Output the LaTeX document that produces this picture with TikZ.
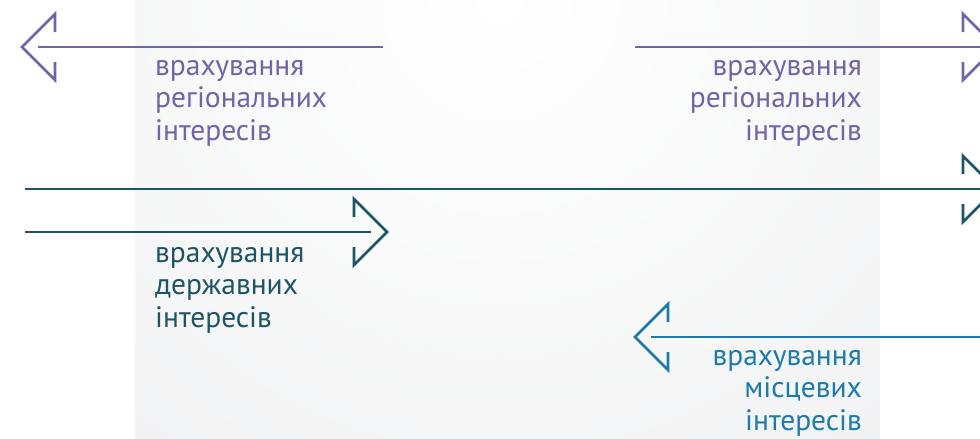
\documentclass[tikz,border=0pt]{standalone}
\usepackage{fontspec}
\setmainfont{PT Sans}
\usepackage{xcolor}
\definecolor{colorRegion}{HTML}{6F65A8}
\definecolor{colorState}{HTML}{1D5566}
\definecolor{colorLocal}{HTML}{1C7BAE}
\definecolor{colorBack}{HTML}{E9EAEC}
\usepackage{tikz}
\usetikzlibrary{arrows.meta, positioning}
% hollow head, open at the back round the shaft
\pgfdeclarearrow{
  name = OpenHead,
  setup code = {
    \pgfarrowssettipend{0pt}
    \pgfarrowssetlineend{-16pt}
    \pgfarrowssetbackend{-33pt}
    \pgfarrowsupperhullpoint{-33pt}{33pt}
    \pgfarrowsupperhullpoint{0pt}{0pt}
  },
  drawing code = {
    \pgfsetdash{}{0pt}
    \pgfsetmiterjoin
    \pgfpathmoveto{\pgfqpoint{-33pt}{15pt}}
    \pgfpathlineto{\pgfqpoint{-33pt}{33pt}}
    \pgfpathlineto{\pgfqpoint{0pt}{0pt}}
    \pgfpathlineto{\pgfqpoint{-33pt}{-33pt}}
    \pgfpathlineto{\pgfqpoint{-33pt}{-15pt}}
    \pgfusepathqstroke
  }
}
\tikzset{
  flow/.style={line width=2.8pt, -OpenHead},
  label text/.style={inner sep=0pt, font=\fontsize{29.5}{32.5}\selectfont}
}

\begin{document}
\begin{tikzpicture}[x=1pt, y=-1pt]
\useasboundingbox (0,0) rectangle (980,439);
\clip (0,0) rectangle (980,439);
\begin{scope}
\clip (135,0) rectangle (880,439);
\shade[inner color=white, outer color=colorBack] (500,0) circle (1000);
\end{scope}
% arrow ends
\coordinate (rl-start) at (383,47);
\coordinate (rl-tip) at (22,47);
\coordinate (rr-start) at (635,47);
\coordinate (rr-tip) at (996,47);
\coordinate (sl-start) at (25,189);
\coordinate (sl-tip) at (996,189);
\coordinate (ss-start) at (25,232);
\coordinate (ss-tip) at (387,232);
\coordinate (lc-start) at (990,337);
\coordinate (lc-tip) at (635,337);
\draw [flow, colorRegion] (rl-start) -- (rl-tip);
\draw [flow, colorRegion] (rr-start) -- (rr-tip);
\draw [flow, colorState] (sl-start) -- (sl-tip);
\draw [flow, colorState] (ss-start) -- (ss-tip);
\draw [flow, colorLocal] (lc-start) -- (lc-tip);
% labels (base = last line)
\node[label text, colorRegion, anchor=base west, align=left] (rl-text) at (155,140) {врахування\\регіональних\\інтересів};
\node[label text, colorRegion, anchor=base east, align=right] (rr-text) at (862,140) {врахування\\регіональних\\інтересів};
\node[label text, colorState, anchor=base west, align=left] (ss-text) at (155,327) {врахування\\державних\\інтересів};
\node[label text, colorLocal, anchor=base east, align=right] (lc-text) at (862,430) {врахування\\місцевих\\інтересів};
\end{tikzpicture}
\end{document}
